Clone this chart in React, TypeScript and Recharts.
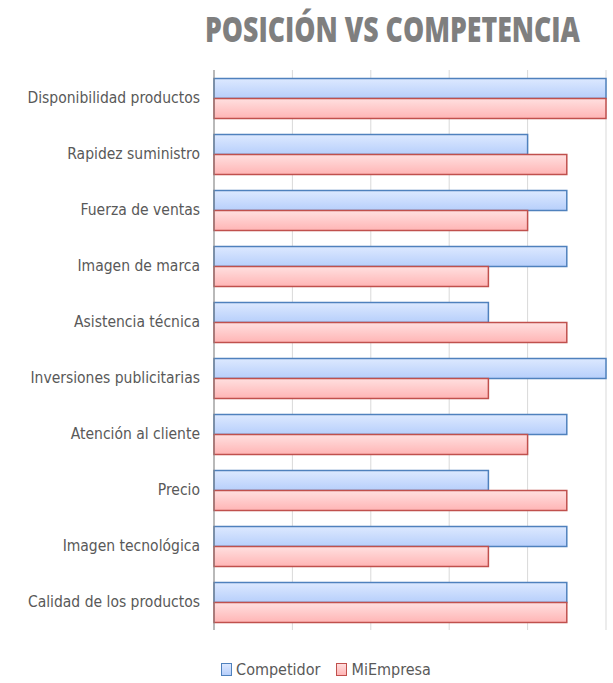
import React from 'react';
import { BarChart, Bar, XAxis, YAxis, CartesianGrid, Legend } from 'recharts';

const categories = [
  'Disponibilidad productos',
  'Rapidez suministro',
  'Fuerza de ventas',
  'Imagen de marca',
  'Asistencia técnica',
  'Inversiones publicitarias',
  'Atención al cliente',
  'Precio',
  'Imagen tecnológica',
  'Calidad de los productos',
];
const competidor = [5, 4, 4.5, 4.5, 3.5, 5, 4.5, 3.5, 4.5, 4.5];
const miEmpresa = [5, 4.5, 4, 3.5, 4.5, 3.5, 4, 4.5, 3.5, 4.5];
const xTicks = [0, 1, 2, 3, 4, 5];

const data = categories.map((name, i) => ({
  name,
  Competidor: competidor[i],
  MiEmpresa: miEmpresa[i],
}));

const labelFont = '"Liberation Sans Narrow", "DejaVu Sans Condensed", "Open Sans", sans-serif';

const CategoryTick = (props: any) => {
  const { y, payload } = props;
  return (
    <text x={200} y={y} dy={5} textAnchor="end" fontSize={15.5} fill="#595959" fontFamily={labelFont}>
      {payload.value}
    </text>
  );
};

// x ticks are not drawn, only used for the grid
const EmptyTick = () => <g />;

const LegendBox = () => (
  <div style={{ display: 'flex', justifyContent: 'center', alignItems: 'center', fontFamily: labelFont, fontSize: 16, color: '#595959', paddingLeft: 46 }}>
    <span style={{ display: 'inline-block', width: 9, height: 11, border: '1px solid #4f81bd', background: 'linear-gradient(#dce8ff, #b7cffb)', marginRight: 4 }} />
    <span style={{ marginRight: 16 }}>Competidor</span>
    <span style={{ display: 'inline-block', width: 9, height: 11, border: '1px solid #c0504d', background: 'linear-gradient(#ffdede, #ffb5b5)', marginRight: 4 }} />
    <span>MiEmpresa</span>
  </div>
);

export default function App() {
  return (
    <div style={{ position: 'absolute', left: 0, top: 0, width: 613, height: 683, background: '#fff' }}>
      <svg width={613} height={70} style={{ position: 'absolute', left: 0, top: 0 }}>
        <g transform="scale(1,1.46)">
          <text x={205} y={28.8} fontSize={24} fontWeight={800} fill="#7f7f7f" fontFamily='"Open Sans", sans-serif' textLength={375} lengthAdjust="spacingAndGlyphs">
            POSICIÓN VS COMPETENCIA
          </text>
        </g>
      </svg>
      <BarChart
        width={613}
        height={683}
        data={data}
        layout="vertical"
        margin={{ top: 70, right: 7, bottom: 0, left: 0 }}
        barCategoryGap="15%"
        barGap={0}
      >
        <defs>
          <linearGradient id="gradBlue" x1="0" y1="0" x2="0" y2="1">
            <stop offset="0%" stopColor="#dde9ff" />
            <stop offset="100%" stopColor="#b7cffb" />
          </linearGradient>
          <linearGradient id="gradRed" x1="0" y1="0" x2="0" y2="1">
            <stop offset="0%" stopColor="#ffe0e0" />
            <stop offset="100%" stopColor="#ffb5b5" />
          </linearGradient>
        </defs>
        <CartesianGrid horizontal={false} stroke="#d9d9d9" strokeWidth={1} />
        <XAxis type="number" domain={[0, 5]} ticks={xTicks} axisLine={false} tickLine={false} tick={<EmptyTick />} height={34} />
        <YAxis
          type="category"
          dataKey="name"
          width={214}
          axisLine={{ stroke: '#868686', strokeWidth: 1 }}
          tickLine={false}
          tick={<CategoryTick />}
        />
        <Legend verticalAlign="bottom" content={() => <LegendBox />} wrapperStyle={{ bottom: 4 }} />
        <Bar dataKey="Competidor" fill="url(#gradBlue)" stroke="#4f81bd" strokeWidth={1.5} isAnimationActive={false} />
        <Bar dataKey="MiEmpresa" fill="url(#gradRed)" stroke="#c0504d" strokeWidth={1.5} isAnimationActive={false} />
      </BarChart>
    </div>
  );
}
